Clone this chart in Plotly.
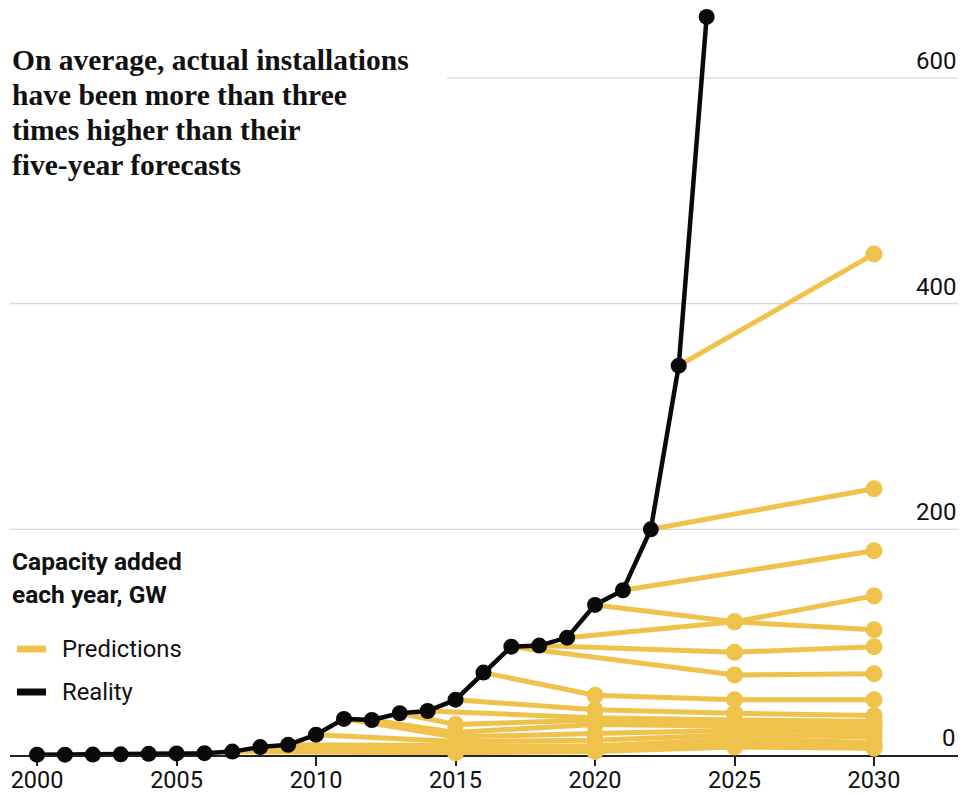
import plotly.graph_objects as go

# ---- data ----
actual_years = list(range(2000, 2025))
actual_values = [0.3, 0.3, 0.4, 0.6, 1.0, 1.4, 1.6, 3, 7, 9, 18, 32, 31, 37, 39,
                 49, 73, 96, 97, 104, 133, 146, 200, 345, 654]

# forecasts: publication year -> (forecast years, forecast values)
forecast_2023 = ([2030], [444])
forecast_2022 = ([2030], [236])
forecast_2021 = ([2030], [181])
forecast_2020 = ([2025, 2030], [118, 111])
forecast_2019 = ([2025, 2030], [118, 141])
forecast_2018 = ([2025, 2030], [91, 96])
forecast_2017 = ([2025, 2030], [71, 72])
forecast_2016 = ([2020, 2025, 2030], [53, 49, 49])
forecast_2015 = ([2020, 2025, 2030], [40, 37, 35])
forecast_2014 = ([2020, 2025, 2030], [33, 31, 30])
forecast_2013 = ([2015, 2020, 2025, 2030], [27, 31, 28, 27])
forecast_2012 = ([2015, 2020, 2025, 2030], [20, 27, 25, 24])
forecast_2011 = ([2015, 2020, 2025, 2030], [16, 19, 22, 20])
forecast_2010 = ([2015, 2020, 2025, 2030], [12, 13, 18, 16])
forecast_2009 = ([2015, 2020, 2025, 2030], [8, 8, 14, 11])
forecast_2008 = ([2015, 2020, 2025, 2030], [4, 5, 10, 8])
forecast_2007 = ([2015, 2020, 2025, 2030], [2, 3, 7, 6])

forecasts = {
    2007: forecast_2007, 2008: forecast_2008, 2009: forecast_2009,
    2010: forecast_2010, 2011: forecast_2011, 2012: forecast_2012,
    2013: forecast_2013, 2014: forecast_2014, 2015: forecast_2015,
    2016: forecast_2016, 2017: forecast_2017, 2018: forecast_2018,
    2019: forecast_2019, 2020: forecast_2020, 2021: forecast_2021,
    2022: forecast_2022, 2023: forecast_2023,
}

x_ticks = [2000, 2005, 2010, 2015, 2020, 2025, 2030]
y_ticks = [0, 200, 400, 600]

title_lines = ["On average, actual installations",
               "have been more than three",
               "times higher than their",
               "five-year forecasts"]

YELLOW = "#EFC24C"
BLACK = "#0a0a0a"

W, H = 962, 796
ML, MR, MT, MB = 10, 4, 0, 41
PH = H - MT - MB
PW = W - ML - MR


def py(pix):  # pixel row -> paper y
    return (H - MB - pix) / PH


def px(pix):  # pixel column -> paper x
    return (pix - ML) / PW


fig = go.Figure()

actual_lookup = dict(zip(actual_years, actual_values))
for pub_year, (fy, fv) in forecasts.items():
    xs = [pub_year] + list(fy)
    ys = [actual_lookup[pub_year]] + list(fv)
    fig.add_trace(go.Scatter(
        x=xs, y=ys, mode="lines",
        line=dict(color=YELLOW, width=5),
        cliponaxis=False, showlegend=False, hoverinfo="skip"))
    fig.add_trace(go.Scatter(
        x=list(fy), y=list(fv), mode="markers", opacity=1,
        marker=dict(color=YELLOW, size=17, opacity=1, line=dict(width=0)),
        cliponaxis=False, showlegend=False, hoverinfo="skip"))

fig.add_trace(go.Scatter(
    x=actual_years, y=actual_values, mode="lines+markers",
    line=dict(color=BLACK, width=4.5),
    marker=dict(color=BLACK, size=16, opacity=1, line=dict(width=0)),
    cliponaxis=False, showlegend=False))

# gridlines
shapes = []
for v in y_ticks[1:]:
    x0 = px(447) if v == 600 else 0
    shapes.append(dict(type="line", xref="paper", yref="y", x0=x0, x1=1,
                       y0=v, y1=v, line=dict(color="#d6d6d6", width=1.3),
                       layer="below"))
# legend swatches
shapes.append(dict(type="line", xref="paper", yref="paper",
                   x0=px(17), x1=px(46), y0=py(649), y1=py(649),
                   line=dict(color=YELLOW, width=7)))
shapes.append(dict(type="line", xref="paper", yref="paper",
                   x0=px(17), x1=px(46), y0=py(692), y1=py(692),
                   line=dict(color=BLACK, width=7)))

annotations = []
for v in y_ticks:
    annotations.append(dict(xref="paper", yref="y", x=1, y=v, xanchor="right",
                            yanchor="bottom", yshift=1, showarrow=False,
                            text=str(v),
                            font=dict(family="Roboto", size=24, color="#111")))

title_centers = [60, 95, 130, 165]
for line, c in zip(title_lines, title_centers):
    annotations.append(dict(xref="paper", yref="paper", x=0, y=py(c),
                            xanchor="left", yanchor="middle", showarrow=False,
                            text="<b>" + line + "</b>",
                            font=dict(family="Liberation Serif", size=29.5,
                                      color="#111")))

annotations.append(dict(xref="paper", yref="paper", x=0, y=py(561),
                        xanchor="left", yanchor="middle", showarrow=False,
                        text="<b>Capacity added</b>",
                        font=dict(family="Roboto", size=24.5, color="#111")))
annotations.append(dict(xref="paper", yref="paper", x=0, y=py(594),
                        xanchor="left", yanchor="middle", showarrow=False,
                        text="<b>each year, GW</b>",
                        font=dict(family="Roboto", size=24.5, color="#111")))
annotations.append(dict(xref="paper", yref="paper", x=px(60), y=py(649),
                        xanchor="left", yanchor="middle", showarrow=False,
                        text="Predictions",
                        font=dict(family="Roboto", size=23.8, color="#111")))
annotations.append(dict(xref="paper", yref="paper", x=px(60), y=py(692),
                        xanchor="left", yanchor="middle", showarrow=False,
                        text="Reality",
                        font=dict(family="Roboto", size=23.8, color="#111")))

fig.update_layout(
    width=W, height=H,
    margin=dict(l=ML, r=MR, t=MT, b=MB, autoexpand=False),
    paper_bgcolor="white", plot_bgcolor="white",
    shapes=shapes, annotations=annotations,
    xaxis=dict(range=[1999.03, 2033.01], tickvals=x_ticks,
               showgrid=False, zeroline=False, showline=True,
               linecolor="#222", linewidth=1.5, ticks="outside",
               ticklen=9, tickwidth=1.5, tickcolor="#222",
               ticklabelstandoff=-6,
               tickfont=dict(family="Roboto", size=23.5, color="#111"),
               layer="below traces", fixedrange=True, automargin=False),
    yaxis=dict(range=[0, PH / 1.1285], showgrid=False, zeroline=False,
               showticklabels=False, showline=False, fixedrange=True,
               automargin=False),
)

fig.write_html(
    "out.html",
    config={"displayModeBar": False},
    post_script="document.body.style.margin='0px';"
                "document.body.style.overflow='hidden';",
)
